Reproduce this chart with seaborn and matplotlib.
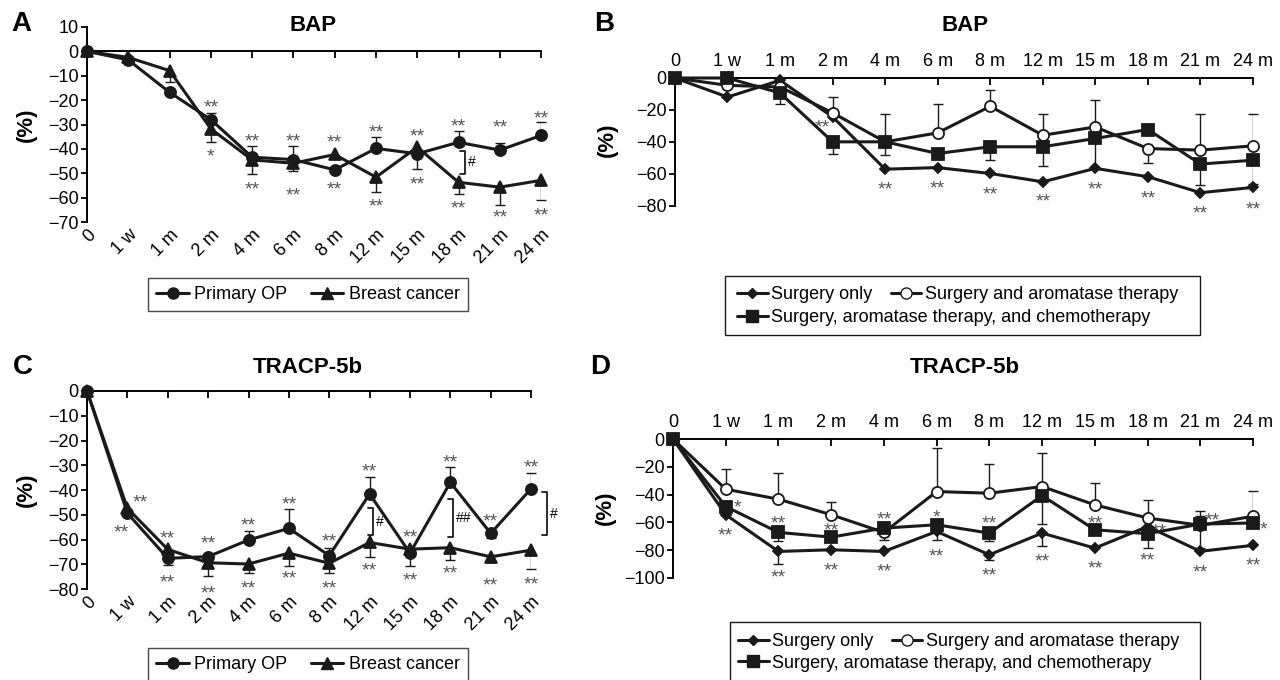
import numpy as np
import matplotlib
matplotlib.use('Agg')
import matplotlib.pyplot as plt
from matplotlib.lines import Line2D
from matplotlib.patches import Rectangle
import seaborn as sns

# time points shared by all panels
times = ['0', '1 w', '1 m', '2 m', '4 m', '6 m', '8 m', '12 m', '15 m', '18 m',
         '21 m', '24 m']

# ---- panel A : BAP, primary OP vs breast cancer (% change)
bap_op = [0, -3.5, -16.8, -28, -43.4, -44.4, -48.6, -39.8, -42, -37.3, -40.5, -34.5]
bap_op_up = [0, 0, 0, 2.7, 4.4, 5.4, 0, 4.6, 0, 4.5, 3, 5.5]
bap_op_dn = [0, 0, 0, 0, 0, 0, 0, 0, 6.2, 0, 0, 0]
bap_bc = [0, -2.5, -7.9, -31.8, -44.5, -45.9, -42.3, -51.6, -39.3, -53.7, -55.7, -52.9]
bap_bc_dn = [0, 0, 4.5, 5.5, 6, 3, 0, 5.9, 0, 4.8, 7.3, 8]
bap_ab_stars = [(3, -20.9, '**'), (3, -40.7, '*'), (4, -34.6, '**'), (4, -54.4, '**'),
                (5, -34.6, '**'), (5, -56.8, '**'), (6, -35.2, '**'), (6, -54.4, '**'),
                (7, -31.1, '**'), (7, -61.2, '**'), (8, -32.5, '**'), (8, -52.3, '**'),
                (9, -28.4, '**'), (9, -62.3, '**'), (10, -29, '**'), (10, -66, '**'),
                (11, -25.5, '**'), (11, -65, '**')]
bap_ab_brackets = [(9.15, -40.9, -50.1, '#')]

# ---- panel B : BAP by treatment group
bap_only = [0, -11.9, -1.5, -24.3, -57, -56, -59.7, -64.9, -56.5, -61.7, -71.7, -68.4]
bap_arom = [0, -4.6, -5.6, -21.8, -39.9, -34.3, -17.7, -35.8, -30.6, -44.1, -45.1, -42.4]
bap_arom_up = [0, 0, 0, 9.9, 17.7, 17.9, 10.4, 13.6, 17.1, 0, 22.9, 20.2]
bap_arom_dn = [0, 0, 0, 0, 0, 0, 0, 0, 0, 8.9, 0, 0]
bap_chemo = [0, 0, -9.4, -39.9, -39.9, -47.2, -43, -43, -37.8, -32.2, -53.8, -51.4]
bap_chemo_dn = [0, 0, 6.6, 7.3, 8.3, 0, 8.4, 12, 18.7, 0, 13.2, 15]
bap_grp_stars = [(2.81, -27.4, '**'), (4, -66.5, '**'), (5, -65.5, '**'), (6, -69.6, '**'),
                 (7, -73.8, '**'), (8, -66.5, '**'), (9, -71.7, '**'), (10, -81.5, '**'),
                 (11, -79, '**')]

# ---- panel C : TRACP-5b, primary OP vs breast cancer
tr_op = [0, -49.4, -67.6, -66.9, -60.2, -55.5, -66.5, -41.6, -65.5, -36.9, -57.5, -39.5]
tr_op_up = [0, 0, 0, 0, 3.8, 7.9, 3, 6.7, 0, 6.3, 0, 6.5]
tr_op_dn = [0, 0, 2.5, 0, 0, 0, 0, 0, 5.4, 0, 2, 0]
tr_bc = [0, -47.4, -64, -69.4, -69.9, -65.5, -69.6, -61.2, -63.9, -63.3, -67, -64.3]
tr_bc_dn = [0, 0, 0, 5.4, 3.8, 5.2, 4.1, 5.7, 0, 4.9, 0, 7.7]
tr_ab_stars = [(1.31, -42.7, '**'), (0.86, -54.8, '**'), (2, -57.5, '**'), (2, -75.2, '**'),
               (3, -59.5, '**'), (3, -79.6, '**'), (4, -52, '**'), (4, -77.6, '**'),
               (5, -43.7, '**'), (5, -73.6, '**'), (6, -58.8, '**'), (6, -77.6, '**'),
               (7, -30.5, '**'), (7, -70.2, '**'), (8, -56.8, '**'), (8, -74.4, '**'),
               (9, -26.5, '**'), (9, -71.6, '**'), (10, -50.5, '**'), (10, -76.5, '**'),
               (11, -28.7, '**'), (11, -76, '**')]
tr_ab_brackets = [(7.08, -47.3, -58.2, '#'), (9.06, -43.6, -59, '##'),
                  (11.4, -41, -58, '#')]

# ---- panel D : TRACP-5b by treatment group
tr_only = [0, -54.5, -80.9, -79.7, -80.9, -66.5, -83.3, -67.7, -78.5, -63, -80.8, -76.5]
tr_only_dn = [0, 0, 9.1, 0, 0, 6.5, 3.5, 9.1, 0, 0, 0, 0]
tr_arom = [0, -36.1, -43.3, -54.5, -67.2, -37.8, -39, -34.2, -47.4, -56.8, -62.1, -55.6]
tr_arom_up = [0, 14.3, 19.1, 9.5, 0, 31.1, 21.1, 23.9, 15.6, 12.7, 6.5, 18.4]
tr_arom_dn = [0, 0, 0, 0, 5.8, 0, 0, 0, 0, 0, 0, 0]
tr_chemo = [0, -48.6, -67.2, -70.6, -64.1, -61.7, -67.7, -40.7, -65.3, -68.1, -61.2, -60.4]
tr_chemo_up = [0, 0, 0, 0, 0, 0, 0, 0, 0, 0, 9.2, 0]
tr_chemo_dn = [0, 0, 6.5, 0, 0, 0, 6, 20.3, 0, 10.3, 17.2, 0]
tr_grp_stars = [(1.22, -45.7, '*'), (1, -65.3, '**'), (2, -57, '**'), (2, -96, '**'),
                (3, -61.7, '**'), (3, -90.4, '**'), (4, -54, '**'), (4, -91.6, '**'),
                (5, -52.2, '*'), (5, -80.9, '**'), (6, -57, '**'), (6, -94, '**'),
                (7, -84.4, '**'), (8, -57, '**'), (8, -89, '**'), (9.22, -62.8, '**'),
                (9, -83.2, '**'), (10.22, -54.4, '**'), (10, -92.3, '**'),
                (11.2, -61, '*'), (11, -86.8, '**')]

sns.set_theme(style='ticks', rc={'text.color': 'black', 'axes.labelcolor': 'black',
                                  'xtick.color': 'black', 'ytick.color': 'black',
                                  'axes.edgecolor': 'black'})
plt.rcParams['font.family'] = ['Liberation Sans', 'DejaVu Sans']

LW = 2.2


def draw_series(ax, y, marker, ms, face='k', up=None, down=None):
    '''line with markers through seaborn, one-sided error bars added by hand'''
    x = np.arange(len(y))
    y = np.asarray(y, float)
    sns.lineplot(x=x, y=y, ax=ax, color='k', lw=LW, marker=marker, ms=ms,
                 mfc=face, mec='k', mew=1.3, clip_on=False, zorder=4,
                 legend=False)
    for err, sign in ((up, 1), (down, -1)):
        if err is None:
            continue
        err = np.asarray(err, float)
        m = err > 0
        ends = y[m] + sign * err[m]
        ax.vlines(x[m], y[m], ends, color='k', lw=1, zorder=2)
        ax.plot(x[m], ends, ls='none', marker='_', ms=7, mew=1, color='k',
                zorder=2, clip_on=False)


def stars(ax, notes):
    for xi, yv, txt in notes:
        ax.annotate(txt, (xi, yv), xytext=(0, -7.5), textcoords='offset points',
                    ha='center', va='baseline', fontsize=14, color='#555555',
                    annotation_clip=False)


def brackets(ax, items):
    for xb, y1, y2, txt in items:
        ax.plot([xb - 0.12, xb, xb, xb - 0.12], [y1, y1, y2, y2], color='k',
                lw=1.3, clip_on=False)
        ax.text(xb + 0.07, (y1 + y2) / 2, txt, fontsize=10, ha='left',
                va='center')


def style_bottom_labels(ax, ylim, yticks):
    # x axis line sits at 0, tick labels rotated under the plot
    ax.spines['top'].set_position(('data', 0))
    ax.spines['bottom'].set_visible(False)
    ax.spines['right'].set_visible(False)
    ax.set_xlim(0, 11)
    ax.set_ylim(*ylim)
    ax.set_yticks(yticks)
    ax.tick_params(axis='x', top=True, bottom=False, labelbottom=True,
                   labeltop=False, direction='in', length=5, width=1.3, pad=3,
                   labelsize=13)
    ax.tick_params(axis='y', direction='out', length=4, width=1.3, pad=2,
                   labelsize=13)
    ax.set_xticks(range(len(times)))
    ax.set_xticklabels(times, rotation=45, ha='right', va='top',
                       rotation_mode='anchor')
    for s in ('top', 'left'):
        ax.spines[s].set_linewidth(1.4)


def style_top_labels(ax, ylim, yticks):
    ax.spines['bottom'].set_visible(False)
    ax.spines['right'].set_visible(False)
    ax.set_xlim(0, 11)
    ax.set_ylim(*ylim)
    ax.set_yticks(yticks)
    ax.tick_params(axis='x', top=True, bottom=False, labeltop=True,
                   labelbottom=False, direction='in', length=5, width=1.3,
                   pad=6, labelsize=13)
    ax.tick_params(axis='y', direction='out', length=4, width=1.3, pad=2,
                   labelsize=13)
    ax.set_xticks(range(len(times)))
    ax.set_xticklabels(times)
    for s in ('top', 'left'):
        ax.spines[s].set_linewidth(1.4)


fig = plt.figure(figsize=(12.8, 6.8), dpi=100)
axA = fig.add_axes([0.068, 0.6735, 0.3547, 0.2868])
axB = fig.add_axes([0.5273, 0.6971, 0.4516, 0.1882])
axC = fig.add_axes([0.068, 0.1338, 0.3469, 0.2912])
axD = fig.add_axes([0.5258, 0.15, 0.4531, 0.2044])

# A
draw_series(axA, bap_op, 'o', 8, up=bap_op_up, down=bap_op_dn)
draw_series(axA, bap_bc, '^', 9, down=bap_bc_dn)
stars(axA, bap_ab_stars)
brackets(axA, bap_ab_brackets)
style_bottom_labels(axA, (-70, 10), range(10, -71, -10))

# B
draw_series(axB, bap_only, 'D', 5.5)
draw_series(axB, bap_arom, 'o', 8, face='white', up=bap_arom_up, down=bap_arom_dn)
draw_series(axB, bap_chemo, 's', 8.5, down=bap_chemo_dn)
stars(axB, bap_grp_stars)
style_top_labels(axB, (-80, 0), range(0, -81, -20))

# C
draw_series(axC, tr_op, 'o', 8, up=tr_op_up, down=tr_op_dn)
draw_series(axC, tr_bc, '^', 9, down=tr_bc_dn)
stars(axC, tr_ab_stars)
brackets(axC, tr_ab_brackets)
style_bottom_labels(axC, (-80, 0), range(0, -81, -10))

# D
draw_series(axD, tr_only, 'D', 5.5, down=tr_only_dn)
draw_series(axD, tr_arom, 'o', 8, face='white', up=tr_arom_up, down=tr_arom_dn)
draw_series(axD, tr_chemo, 's', 8.5, up=tr_chemo_up, down=tr_chemo_dn)
stars(axD, tr_grp_stars)
style_top_labels(axD, (-100, 0), range(0, -101, -20))

# titles, panel letters, y labels
for x, y, t in [(0.2445, 0.963, 'BAP'), (0.754, 0.963, 'BAP'),
                (0.2406, 0.46, 'TRACP-5b'), (0.754, 0.46, 'TRACP-5b')]:
    fig.text(x, y, t, fontsize=16, fontweight='bold', ha='center', va='center')
for x, y, t in [(0.017, 0.965, 'A'), (0.472, 0.965, 'B'),
                (0.018, 0.46, 'C'), (0.469, 0.46, 'D')]:
    fig.text(x, y, t, fontsize=20, fontweight='bold', ha='center', va='center')
for x, y in [(26, 124.5), (607, 140), (26, 490), (605, 508)]:
    fig.text(x / 1280, 1 - y / 680, '(%)', rotation=90, fontsize=16,
             fontweight='bold', ha='center', va='center')

# legends
h_op = Line2D([], [], color='k', lw=LW, marker='o', ms=8, label='Primary OP')
h_bc = Line2D([], [], color='k', lw=LW, marker='^', ms=9, label='Breast cancer')
h_only = Line2D([], [], color='k', lw=LW, marker='D', ms=5.5,
                label='Surgery only')
h_arom = Line2D([], [], color='k', lw=LW, marker='o', ms=8, mfc='white',
                label='Surgery and aromatase therapy')
h_chemo = Line2D([], [], color='k', lw=LW, marker='s', ms=8.5,
                 label='Surgery, aromatase therapy, and chemotherapy')

for ycen in (0.5669, 0.0228):
    leg = fig.legend(handles=[h_op, h_bc], loc='center', ncol=2,
                     bbox_to_anchor=(0.2406, ycen), frameon=True, fancybox=False,
                     edgecolor='k', fontsize=13, handlelength=1.8,
                     handletextpad=0.3, columnspacing=1.3, borderpad=0.45,
                     borderaxespad=0)
    leg.get_frame().set_linewidth(1.0)

leg_kw = dict(loc='center left', frameon=False, fontsize=13, handlelength=1.7,
              handletextpad=0.2, columnspacing=1.0, borderpad=0,
              borderaxespad=0)
for x0, r1, r2, box in [(0.5758, 0.5662, 0.5324, (0.5664, 0.5074, 0.3711, 0.0868)),
                        (0.5766, 0.0559, 0.0250, (0.5703, -0.003, 0.3672, 0.0882))]:
    fig.legend(handles=[h_only, h_arom], ncol=2, bbox_to_anchor=(x0, r1), **leg_kw)
    fig.legend(handles=[h_chemo], bbox_to_anchor=(x0, r2), **leg_kw)
    fig.add_artist(Rectangle(box[:2], box[2], box[3], transform=fig.transFigure,
                             fill=False, ec='k', lw=1.0))

plt.savefig('out.png', dpi=100)
